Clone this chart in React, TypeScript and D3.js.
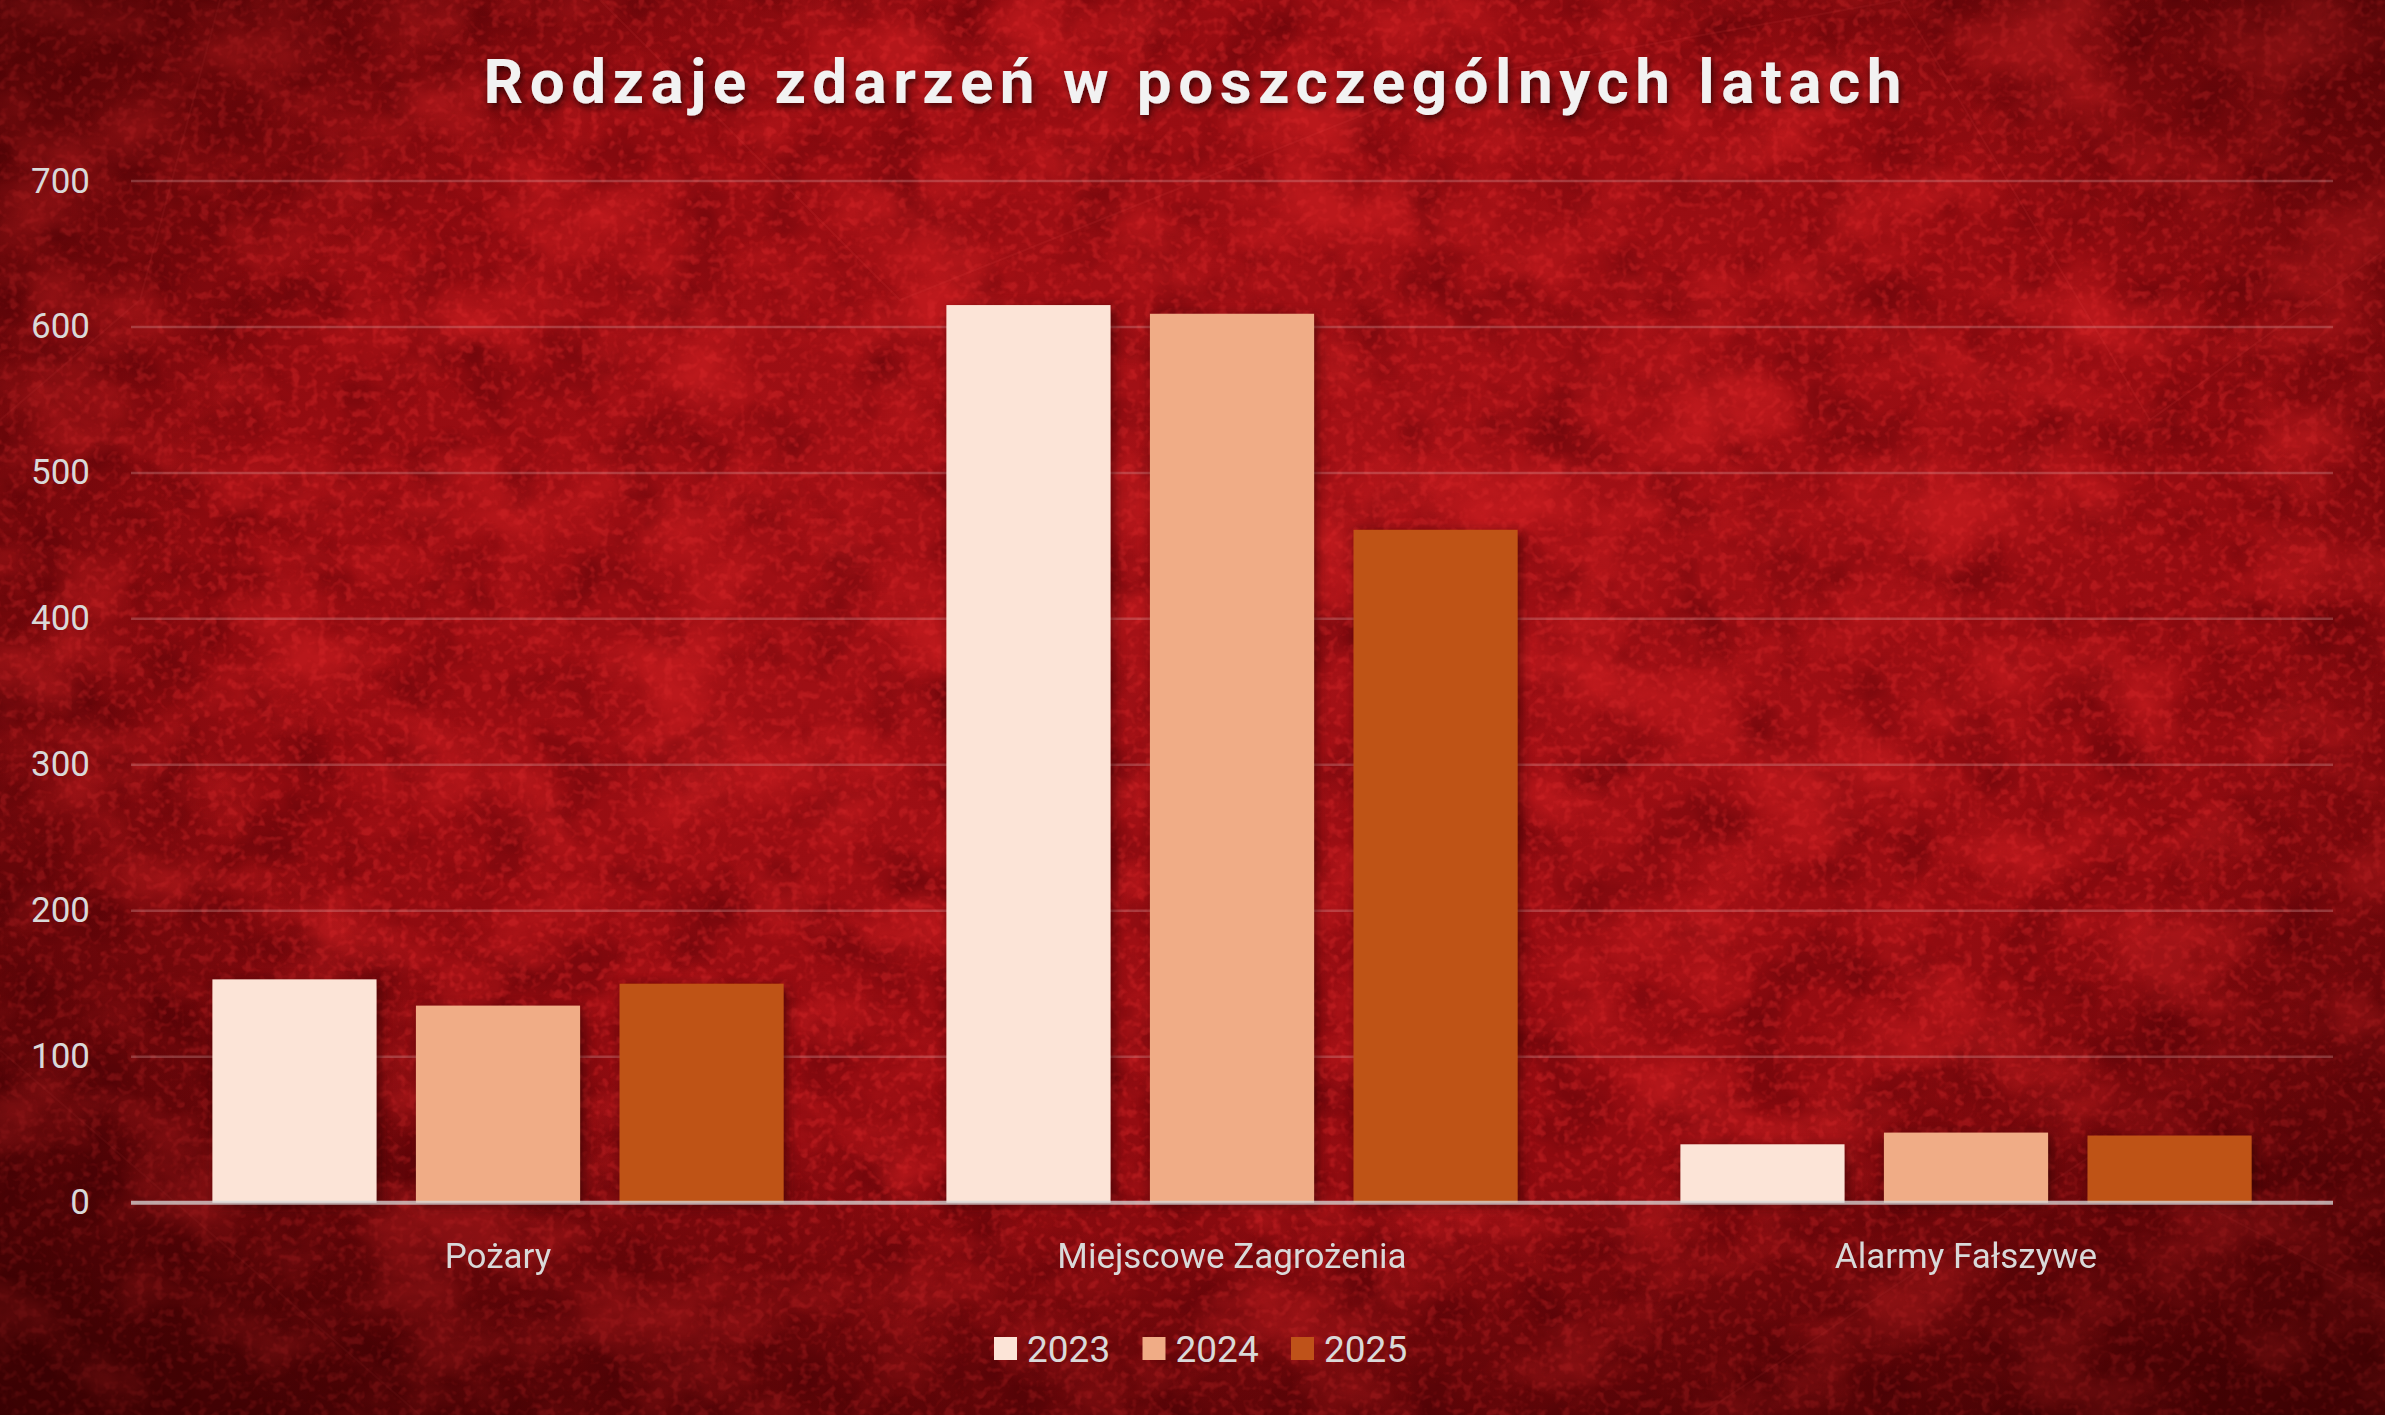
import React from "react";
import * as d3 from "d3";

const W = 2385;
const H = 1415;

const categories = ["Pożary", "Miejscowe Zagrożenia", "Alarmy Fałszywe"];
const years = ["2023", "2024", "2025"];
const values2023 = [153, 615, 40];
const values2024 = [135, 609, 48];
const values2025 = [150, 461, 46];
const yTicks = [0, 100, 200, 300, 400, 500, 600, 700];
const titleText = "Rodzaje zdarzeń w poszczególnych latach";

const seriesValues = [values2023, values2024, values2025];
const colors = ["#fce4d7", "#f0ac86", "#bf5219"];

const margin = { left: 131, right: 52, top: 181, bottom: 212 };

export default function App() {
  const x0 = d3
    .scaleBand<string>()
    .domain(categories)
    .range([margin.left, W - margin.right])
    .paddingInner(0)
    .paddingOuter(0);
  const x1 = d3
    .scaleBand<string>()
    .domain(years)
    .range([0, x0.bandwidth()])
    .paddingInner(0.194)
    .paddingOuter(0.4);
  const y = d3
    .scaleLinear()
    .domain([0, 700])
    .range([H - margin.bottom - 0.3, margin.top]);

  const font = "Roboto, 'Liberation Sans', Arial, sans-serif";
  const legendStep = 148.5;
  const legendStart = 994;

  return (
    <div>
      <style>{`body{margin:0;overflow:hidden;}`}</style>
      <svg width={W} height={H} viewBox={`0 0 ${W} ${H}`} style={{ display: "block" }}>
        <defs>
          <radialGradient id="bgGrad" cx="52%" cy="40%" r="72%">
            <stop offset="0%" stopColor="#a81217" />
            <stop offset="55%" stopColor="#950c11" />
            <stop offset="100%" stopColor="#640407" />
          </radialGradient>
          <radialGradient id="vignette" cx="52%" cy="42%" r="78%">
            <stop offset="55%" stopColor="#1e0000" stopOpacity="0" />
            <stop offset="100%" stopColor="#1e0000" stopOpacity="0.6" />
          </radialGradient>
          <filter id="blotch" x="0" y="0" width="100%" height="100%" colorInterpolationFilters="sRGB">
            <feTurbulence type="fractalNoise" baseFrequency="0.008 0.011" numOctaves="5" seed="7" result="n" />
            <feColorMatrix
              in="n"
              type="matrix"
              values="0 0 0 0 0.84  0 0 0 0 0.13  0 0 0 0 0.14  3.0 0 0 0 -1.35"
            />
          </filter>
          <filter id="speckle" x="0" y="0" width="100%" height="100%" colorInterpolationFilters="sRGB">
            <feTurbulence type="fractalNoise" baseFrequency="0.11" numOctaves="2" seed="11" result="n" />
            <feColorMatrix
              in="n"
              type="matrix"
              values="0 0 0 0 0.86  0 0 0 0 0.16  0 0 0 0 0.17  4.0 0 0 0 -1.95"
            />
          </filter>
          <filter id="darkspots" x="0" y="0" width="100%" height="100%" colorInterpolationFilters="sRGB">
            <feTurbulence type="fractalNoise" baseFrequency="0.015" numOctaves="3" seed="21" result="n" />
            <feColorMatrix
              in="n"
              type="matrix"
              values="0 0 0 0 0.3  0 0 0 0 0.0  0 0 0 0 0.02  0 2.6 0 0 -1.2"
            />
          </filter>
          <filter id="barShadow" x="-20%" y="-20%" width="140%" height="140%">
            <feDropShadow dx="3" dy="3" stdDeviation="6" floodColor="#2a0000" floodOpacity="0.65" />
          </filter>
          <filter id="titleShadow" x="-5%" y="-30%" width="110%" height="160%">
            <feDropShadow dx="2" dy="4" stdDeviation="3" floodColor="#1a0000" floodOpacity="0.7" />
          </filter>
        </defs>

        {/* background */}
        <rect x={0} y={0} width={W} height={H} fill="url(#bgGrad)" />
        <rect x={0} y={0} width={W} height={H} filter="url(#darkspots)" opacity={0.45} />
        <rect x={0} y={0} width={W} height={H} filter="url(#blotch)" opacity={0.55} />
        <rect x={0} y={0} width={W} height={H} filter="url(#speckle)" opacity={0.4} />
        <g stroke="#e8474d" strokeOpacity={0.12} strokeWidth={2} fill="none">
          <polyline points="220,0 140,300 0,420" />
          <polyline points="600,0 900,300 1450,80 1900,0" />
          <polyline points="1900,0 2150,420 2385,250" />
          <polyline points="0,1050 420,1415" />
          <polyline points="1700,1415 2100,1150 2385,1300" />
        </g>
        <rect x={0} y={0} width={W} height={H} fill="url(#vignette)" />

        {/* title */}
        <text
          x={W / 2}
          y={103}
          textAnchor="middle"
          fontFamily={font}
          fontWeight={700}
          fontSize={62}
          fill="#f2f2f2"
          textLength={1418}
          lengthAdjust="spacing"
          filter="url(#titleShadow)"
        >
          {titleText}
        </text>

        {/* gridlines */}
        <g>
          {yTicks
            .filter((t) => t !== 0)
            .map((t) => (
              <line
                key={`g${t}`}
                x1={margin.left}
                x2={W - margin.right}
                y1={y(t)}
                y2={y(t)}
                stroke="#e6b3b3"
                strokeOpacity={0.28}
                strokeWidth={2.5}
              />
            ))}
        </g>

        {/* y tick labels */}
        <g>
          {yTicks.map((t) => (
            <text
              key={`t${t}`}
              x={90}
              y={y(t)}
              textAnchor="end"
              dominantBaseline="central"
              fontFamily={font}
              fontSize={35}
              fill="#d9d9d9"
            >
              {t}
            </text>
          ))}
        </g>

        {/* bars */}
        <g filter="url(#barShadow)">
          {categories.map((c, ci) => (
            <g key={c} transform={`translate(${x0(c)},0)`}>
              {years.map((yr, si) => {
                const v = seriesValues[si][ci];
                return (
                  <rect
                    key={yr}
                    x={x1(yr)}
                    y={y(v)}
                    width={x1.bandwidth()}
                    height={y(0) - y(v)}
                    fill={colors[si]}
                  />
                );
              })}
            </g>
          ))}
        </g>

        {/* zero axis line */}
        <line
          x1={margin.left}
          x2={W - margin.right}
          y1={y(0)}
          y2={y(0)}
          stroke="#d9d9d9"
          strokeOpacity={0.75}
          strokeWidth={4}
        />

        {/* category labels */}
        <g>
          {categories.map((c) => (
            <text
              key={`c${c}`}
              x={(x0(c) as number) + x0.bandwidth() / 2}
              y={1268}
              textAnchor="middle"
              fontFamily={font}
              fontSize={35}
              fill="#d9d9d9"
            >
              {c}
            </text>
          ))}
        </g>

        {/* legend */}
        <g>
          {years.map((yr, i) => (
            <g key={`l${yr}`} transform={`translate(${legendStart + i * legendStep},1337)`}>
              <rect x={0} y={0} width={23} height={23} fill={colors[i]} />
              <text
                x={33}
                y={12}
                dominantBaseline="central"
                fontFamily={font}
                fontSize={37}
                fill="#d9d9d9"
              >
                {yr}
              </text>
            </g>
          ))}
        </g>
      </svg>
    </div>
  );
}
